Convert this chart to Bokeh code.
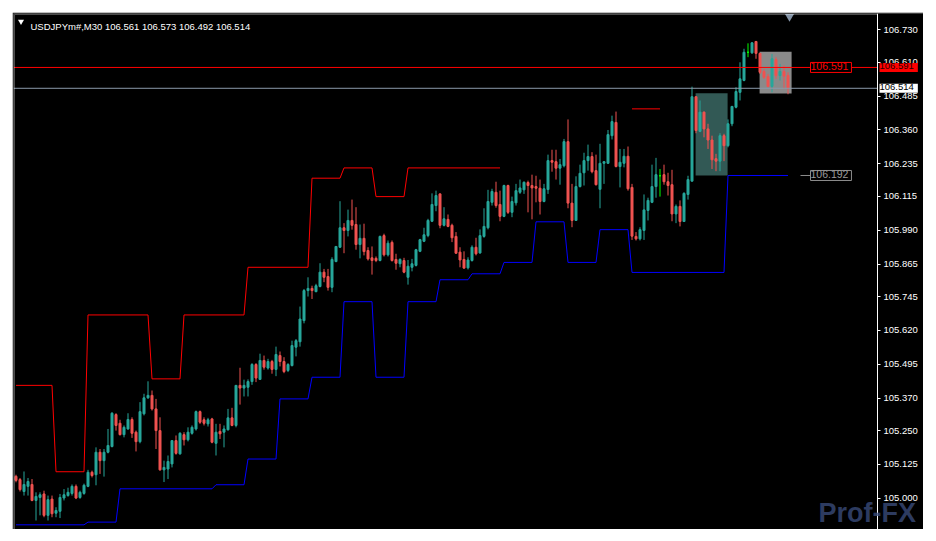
import numpy as np
from bokeh.plotting import figure
from bokeh.models import (Range1d, FixedTicker, PrintfTickFormatter, Label, ColumnDataSource,
                          BoxAnnotation)
from bokeh.embed import file_html
from bokeh.resources import INLINE

symbol = "USDJPYm#"
timeframe = "M30"

open_ = [105.081, 105.069, 105.025, 105.044, 105.051, 104.992, 105.003, 105.016, 104.937, 104.997,
         104.945, 104.952, 105.001, 105.010, 105.018, 105.044, 105.003, 105.018, 105.044, 105.096,
         105.087, 105.170, 105.139, 105.170, 105.191, 105.309, 105.277, 105.235, 105.256, 105.291,
         105.244, 105.209, 105.312, 105.371, 105.380, 105.330, 105.250, 105.105, 105.108, 105.127,
         105.213, 105.164, 105.235, 105.216, 105.240, 105.256, 105.320, 105.290, 105.275, 105.293,
         105.203, 105.247, 105.244, 105.253, 105.297, 105.269, 105.417, 105.407, 105.410, 105.431,
         105.494, 105.439, 105.509, 105.481, 105.505, 105.476, 105.527, 105.505, 105.472, 105.490,
         105.558, 105.578, 105.656, 105.767, 105.775, 105.763, 105.782, 105.835, 105.819, 105.779,
         105.874, 105.927, 105.999, 105.989, 106.026, 106.011, 105.937, 105.960, 105.915, 105.888,
         105.886, 105.878, 105.970, 105.899, 105.945, 105.882, 105.866, 105.878, 105.816, 105.853,
         105.860, 105.912, 105.949, 105.970, 106.023, 106.081, 106.124, 106.008, 106.030, 106.008,
         105.967, 105.909, 105.882, 105.851, 105.878, 105.927, 105.906, 105.967, 105.999, 106.093,
         106.130, 106.085, 106.041, 106.155, 106.056, 106.091, 106.130, 106.139, 106.166, 106.155,
         106.151, 106.145, 106.096, 106.140, 106.247, 106.243, 106.219, 106.228, 106.317, 106.090,
         106.026, 106.151, 106.202, 106.247, 106.262, 106.210, 106.141, 106.237, 106.237, 106.339,
         106.388, 106.225, 106.237, 106.263, 106.148, 105.967, 105.958, 105.989, 106.063, 106.093,
         106.151, 106.191, 106.195, 106.169, 106.158, 106.050, 106.078, 106.022, 106.122, 106.171,
         106.483, 106.355, 106.426, 106.364, 106.323, 106.254, 106.245, 106.339, 106.302, 106.383,
         106.444, 106.499, 106.543, 106.647, 106.645, 106.687, 106.643, 106.576, 106.557, 106.521,
         106.620, 106.561, 106.576, 106.561]

high = [105.087, 105.075, 105.099, 105.075, 105.071, 105.022, 105.022, 105.028, 105.010, 105.010,
        104.967, 105.016, 105.034, 105.039, 105.051, 105.051, 105.028, 105.054, 105.105, 105.102,
        105.188, 105.182, 105.182, 105.256, 105.318, 105.314, 105.290, 105.269, 105.314, 105.299,
        105.250, 105.355, 105.386, 105.432, 105.398, 105.367, 105.299, 105.139, 105.158, 105.213,
        105.232, 105.244, 105.244, 105.262, 105.269, 105.324, 105.324, 105.299, 105.297, 105.297,
        105.275, 105.275, 105.269, 105.330, 105.334, 105.417, 105.482, 105.438, 105.439, 105.499,
        105.499, 105.534, 105.527, 105.515, 105.511, 105.560, 105.542, 105.521, 105.499, 105.582,
        105.588, 105.708, 105.773, 105.816, 105.785, 105.792, 105.868, 105.847, 105.847, 105.890,
        105.930, 106.097, 106.016, 106.066, 106.103, 106.075, 106.011, 106.014, 105.927, 105.930,
        105.893, 105.970, 105.977, 105.952, 105.952, 105.903, 105.886, 105.888, 105.880, 105.884,
        105.921, 105.958, 105.999, 106.032, 106.126, 106.136, 106.126, 106.075, 106.048, 106.014,
        105.983, 105.927, 105.912, 105.890, 105.934, 105.962, 105.993, 106.071, 106.139, 106.143,
        106.169, 106.136, 106.158, 106.158, 106.114, 106.161, 106.177, 106.170, 106.173, 106.195,
        106.191, 106.177, 106.161, 106.269, 106.287, 106.287, 106.253, 106.327, 106.399, 106.161,
        106.189, 106.232, 106.276, 106.306, 106.278, 106.269, 106.309, 106.245, 106.360, 106.413,
        106.428, 106.290, 106.290, 106.299, 106.161, 105.983, 106.001, 106.122, 106.110, 106.232,
        106.257, 106.216, 106.232, 106.202, 106.213, 106.085, 106.100, 106.130, 106.191, 106.520,
        106.483, 106.469, 106.428, 106.383, 106.339, 106.272, 106.348, 106.346, 106.399, 106.449,
        106.518, 106.610, 106.660, 106.680, 106.684, 106.687, 106.643, 106.586, 106.567, 106.641,
        106.629, 106.604, 106.598, 106.573]

low = [105.059, 105.025, 105.010, 105.010, 104.989, 104.918, 104.937, 104.930, 104.918, 104.930,
       104.930, 104.927, 104.992, 105.006, 105.010, 104.997, 104.998, 105.013, 105.041, 105.077,
       105.048, 105.090, 105.080, 105.166, 105.188, 105.250, 105.232, 105.225, 105.253, 105.223,
       105.173, 105.203, 105.306, 105.367, 105.324, 105.182, 105.102, 105.060, 105.071, 105.114,
       105.161, 105.161, 105.195, 105.210, 105.235, 105.250, 105.275, 105.269, 105.265, 105.203,
       105.158, 105.219, 105.188, 105.250, 105.266, 105.262, 105.346, 105.376, 105.376, 105.419,
       105.429, 105.439, 105.475, 105.475, 105.460, 105.451, 105.487, 105.462, 105.466, 105.487,
       105.524, 105.560, 105.646, 105.745, 105.736, 105.761, 105.779, 105.798, 105.767, 105.761,
       105.872, 105.925, 105.905, 105.967, 105.992, 105.918, 105.886, 105.897, 105.878, 105.826,
       105.872, 105.875, 105.893, 105.893, 105.874, 105.844, 105.853, 105.831, 105.789, 105.838,
       105.856, 105.909, 105.946, 105.964, 106.020, 106.060, 105.997, 106.004, 106.001, 105.946,
       105.903, 105.853, 105.847, 105.845, 105.874, 105.897, 105.903, 105.962, 105.993, 106.081,
       106.073, 106.023, 106.038, 106.050, 106.038, 106.081, 106.124, 106.124, 106.056, 106.030,
       106.093, 106.048, 106.093, 106.124, 106.206, 106.177, 106.158, 106.222, 106.071, 106.001,
       106.026, 106.148, 106.155, 106.210, 106.200, 106.155, 106.071, 106.161, 106.235, 106.325,
       106.222, 106.148, 106.222, 106.136, 105.954, 105.952, 105.952, 105.954, 106.026, 106.090,
       106.110, 106.114, 106.158, 106.118, 106.023, 106.016, 106.004, 106.021, 106.103, 106.171,
       106.348, 106.352, 106.333, 106.290, 106.216, 106.208, 106.208, 106.245, 106.296, 106.374,
       106.440, 106.469, 106.540, 106.629, 106.641, 106.623, 106.567, 106.549, 106.518, 106.499,
       106.549, 106.543, 106.512, 106.492]

close = [105.066, 105.032, 105.051, 105.062, 104.992, 105.007, 105.013, 104.937, 104.995, 104.943,
         104.955, 105.003, 105.013, 105.022, 105.044, 105.001, 105.022, 105.048, 105.096, 105.084,
         105.170, 105.139, 105.170, 105.195, 105.314, 105.269, 105.235, 105.262, 105.291, 105.240,
         105.209, 105.320, 105.371, 105.380, 105.330, 105.250, 105.105, 105.114, 105.136, 105.213,
         105.166, 105.240, 105.216, 105.244, 105.262, 105.320, 105.281, 105.277, 105.290, 105.207,
         105.244, 105.238, 105.256, 105.297, 105.269, 105.417, 105.407, 105.417, 105.431, 105.494,
         105.444, 105.509, 105.484, 105.505, 105.476, 105.531, 105.505, 105.468, 105.494, 105.564,
         105.582, 105.662, 105.767, 105.775, 105.767, 105.785, 105.835, 105.816, 105.779, 105.882,
         105.930, 105.999, 105.989, 106.026, 106.008, 105.937, 105.960, 105.911, 105.884, 105.878,
         105.878, 105.967, 105.899, 105.942, 105.878, 105.868, 105.882, 105.835, 105.857, 105.866,
         105.918, 105.955, 105.973, 106.026, 106.085, 106.118, 106.008, 106.032, 106.004, 105.962,
         105.905, 105.880, 105.850, 105.880, 105.927, 105.903, 105.970, 106.004, 106.096, 106.133,
         106.081, 106.041, 106.155, 106.056, 106.096, 106.136, 106.146, 106.167, 106.155, 106.146,
         106.145, 106.096, 106.143, 106.247, 106.241, 106.219, 106.232, 106.317, 106.090, 106.026,
         106.151, 106.200, 106.247, 106.262, 106.206, 106.158, 106.237, 106.243, 106.343, 106.391,
         106.225, 106.241, 106.263, 106.143, 105.968, 105.958, 105.992, 106.065, 106.100, 106.151,
         106.195, 106.191, 106.169, 106.155, 106.050, 106.078, 106.022, 106.126, 106.177, 106.483,
         106.358, 106.426, 106.364, 106.323, 106.250, 106.245, 106.339, 106.302, 106.383, 106.447,
         106.502, 106.549, 106.647, 106.647, 106.682, 106.643, 106.573, 106.555, 106.521, 106.623,
         106.561, 106.576, 106.559, 106.514]

# channel levels as (value, number of bars) runs; None = not drawn
upper_values = [105.417, 105.098, 105.677, 105.441, 105.677, 105.853, 106.182, 106.220, 106.114,
                106.220, None, 106.438, None]
upper_counts = [10, 8, 16, 8, 16, 16, 8, 8, 8, 24, 32, 8, 32]
lower_values = [104.902, 104.912, 105.035, 105.050, 105.145, 105.367, 105.447, 105.726, 105.447,
                105.726, 105.807, 105.829, 105.871, 106.021, 105.871, 105.992, 105.834, 106.192]
lower_counts = [18, 8, 24, 8, 8, 8, 8, 8, 8, 8, 8, 8, 8, 8, 8, 8, 24, 16]

tick_prices = [106.730, 106.610, 106.485, 106.360, 106.235, 106.115, 105.990, 105.865,
               105.745, 105.620, 105.495, 105.370, 105.250, 105.125, 105.000]

level_price = 106.591
support_price = 106.192
zone_left = [169.9, 185.9]
zone_right = [177.9, 193.9]
zone_top = [106.496, 106.649]
zone_bottom = [106.192, 106.495]
zone_color = ["#325955", "#8a8a8a"]

BULL = "#26a69a"
BEAR = "#ef5350"
DOJI = "#00ff00"
FONT = "Liberation Sans"

n = len(close)
idx = list(range(n))
colors = [BULL if c > o else (BEAR if c < o else DOJI) for o, c in zip(open_, close)]
src = ColumnDataSource(dict(
    x=idx, o=open_, h=high, l=low, c=close,
    top=[max(o, c) for o, c in zip(open_, close)],
    bottom=[min(o, c) for o, c in zip(open_, close)],
    color=colors))


def expand(values, counts):
    out = []
    for v, k in zip(values, counts):
        out += [np.nan if v is None else v] * k
    return out


upper = expand(upper_values, upper_counts)
lower = expand(lower_values, lower_counts)

# layout helpers (page pixels -> data), frame spans x 13..923, y 13..529
PX_PER_BAR = 4.0
PX_PER_PRICE = 270.8
FRAME_W, FRAME_H = 910, 516
x0 = -(15.5 - 13) / PX_PER_BAR
x1 = x0 + FRAME_W / PX_PER_BAR
Y_TOP = 106.730 + (29.3 - 13) / PX_PER_PRICE
Y_BOT = Y_TOP - FRAME_H / PX_PER_PRICE


def xd(px):
    return x0 + (px - 13) / PX_PER_BAR


def yd(py):
    return Y_TOP - (py - 13) / PX_PER_PRICE


p = figure(width=911, height=517, output_backend="svg", toolbar_location=None, title=None,
           x_range=Range1d(x0, x1), y_range=Range1d(Y_BOT, Y_TOP),
           x_axis_location=None, y_axis_location="right",
           min_border_left=1, min_border_top=1, min_border_bottom=0, min_border_right=0)
p.margin = (12, 0, 0, 12)
p.background_fill_color = "black"
p.border_fill_color = "black"
p.outline_line_color = None
p.grid.visible = False

# zones behind the candles
p.quad(left=zone_left, right=zone_right, top=zone_top, bottom=zone_bottom,
       fill_color=zone_color, line_color=None)

# candles
p.segment(x0="x", y0="l", x1="x", y1="h", line_color="color", line_width=1, source=src)
p.vbar(x="x", width=0.5, top="top", bottom="bottom", fill_color="color",
       line_color="color", line_width=1, source=src)

# channel lines
p.line(idx, upper, line_color="#ff0000", line_width=1)
p.line(idx, lower, line_color="#0000ff", line_width=1)

# horizontal levels (stop at the price scale)
p.segment(x0=[x0, x0], y0=[level_price, close[-1]], x1=[xd(877), xd(877)],
          y1=[level_price, close[-1]], line_color=["#ff0000", "#8a9aaa"], line_width=1)
p.segment(x0=[xd(800)], y0=[support_price], x1=[xd(810)], y1=[support_price],
          line_color="#8c8c8c", line_width=1)

# chart border (left / top); right edge is the price-scale line
p.add_layout(BoxAnnotation(left=xd(14), right=xd(877), top=yd(14), bottom=Y_BOT - 1,
                           fill_alpha=0, line_color="white", line_width=1))

# price scale, placed at the chart's right edge inside the panel
ax = p.yaxis[0]
ax.fixed_location = xd(877)
ax.ticker = FixedTicker(ticks=tick_prices)
ax.formatter = PrintfTickFormatter(format="%.3f")
ax.major_label_text_color = "white"
ax.major_label_text_font = FONT
ax.major_label_text_font_size = "9.5px"
ax.major_tick_line_color = "white"
ax.major_tick_out = 3
ax.major_tick_in = 0
ax.minor_tick_line_color = None
ax.axis_line_color = "white"
ax.major_label_standoff = 3

# in-chart price tags
p.add_layout(Label(x=xd(810), y=level_price, text=f"{level_price:.3f}", text_color="#ff0000",
                   text_font=FONT, text_font_size="10.5px", text_baseline="middle",
                   background_fill_color="black", border_line_color="#ff0000",
                   padding=(0, 3, 0, 2)))
p.add_layout(Label(x=xd(810), y=support_price, text=f"{support_price:.3f}", text_color="#9a9a9a",
                   text_font=FONT, text_font_size="10.5px", text_baseline="middle",
                   background_fill_color="black", border_line_color="#8c8c8c",
                   padding=(0, 3, 0, 2)))

# price-scale tags
p.add_layout(Label(x=xd(879), y=level_price, text=f"{level_price:.3f}", text_color="#2a0000",
                   text_font=FONT, text_font_size="9.5px", text_baseline="middle",
                   background_fill_color="#ff0000", padding=(0, 4, 0, 3)))
p.add_layout(Label(x=xd(879), y=close[-1], text=f"{close[-1]:.3f}", text_color="black",
                   text_font=FONT, text_font_size="9.5px", text_baseline="middle",
                   background_fill_color="white", padding=(0, 4, 0, 3)))

# header
header = f"{symbol},{timeframe}  {open_[-1]:.3f} {high[-1]:.3f} {low[-1]:.3f} {close[-1]:.3f}"
p.add_layout(Label(x=xd(30), y=yd(26), text=header, text_color="white", text_font=FONT,
                   text_font_size="9.5px", text_baseline="alphabetic"))
p.scatter(x=[xd(20.5)], y=[yd(21)], marker="inverted_triangle", size=6,
          fill_color="white", line_color=None)
p.scatter(x=[xd(789)], y=[yd(16)], marker="inverted_triangle", size=9,
          fill_color="#8595a8", line_color=None)

# watermark (kept fully inside the panel)
p.add_layout(Label(x=xd(818), y=yd(527), text="Prof-FX", text_color="#3c4f80", text_alpha=0.75,
                   text_font=FONT, text_font_size="27px", text_font_style="bold",
                   text_baseline="bottom"))

open("out.html", "w").write(file_html(p, INLINE))
